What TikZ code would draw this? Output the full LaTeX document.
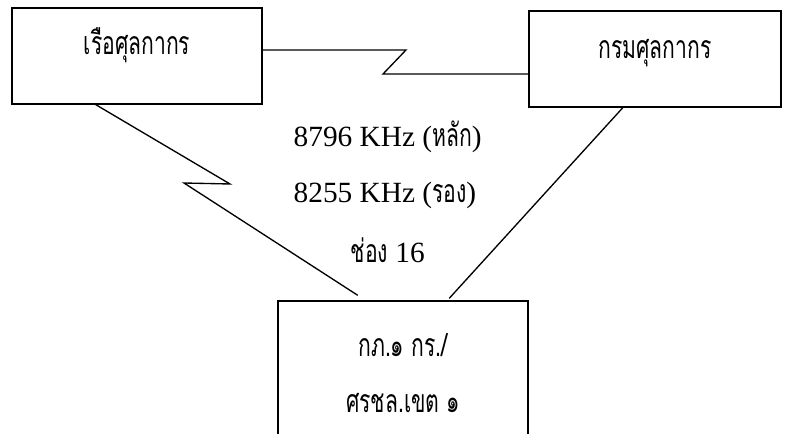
\documentclass[tikz,border=0pt]{standalone}
\usepackage{fontspec}
\setmainfont{Liberation Serif}
\newfontfamily\thai[Script=Thai,FakeStretch=0.66]{Loma}
\usetikzlibrary{calc}

\begin{document}
\begin{tikzpicture}[x=0.75pt,y=-0.75pt,line width=1pt,
  box/.style={draw,rectangle,inner sep=0pt,font=\thai\fontsize{24}{42}\selectfont},
  freq/.style={anchor=base west,inner sep=0pt,font=\fontsize{22}{24}\selectfont}]

\useasboundingbox (0,0) rectangle (786,434);

\node[box,minimum width=187.5pt,text height=35pt,text depth=37pt] (ship) at (137,56) {เรือศุลกากร};
\node[box,minimum width=189pt,text height=36pt,text depth=36pt] (customs) at (655,59) {กรมศุลกากร};
\node[box,align=center,minimum width=187.5pt,minimum height=108pt] (office) at (403,373) {กภ.๑ กร./\\ศรชล.เขต ๑};

\coordinate (z1) at (406,50);
\coordinate (z2) at (383,74);
\coordinate (l1) at (230,184);
\coordinate (l2) at (184,183);

\draw (ship.east |- z1) -- (z1) -- (z2) -- (z2 -| customs.west);
\draw ($(ship.south west)!0.336!(ship.south east)$) -- (l1) -- (l2) -- ($(office.north west)!0.32!(office.north east)+(0,-5)$);
\draw ($(customs.south west)!0.373!(customs.south east)$) -- ($(office.north west)!0.684!(office.north east)+(0,-2)$);

\node[freq] (f1) at (293,147) {8796 KHz ({\thai\fontsize{24}{24}\selectfont หลัก})};
\node[freq] (f2) at (293,203) {8255 KHz ({\thai\fontsize{24}{24}\selectfont รอง})};
\node[freq] (ch) at (350,263) {{\thai\fontsize{24}{24}\selectfont ช่อง} 16};

\end{tikzpicture}
\end{document}
